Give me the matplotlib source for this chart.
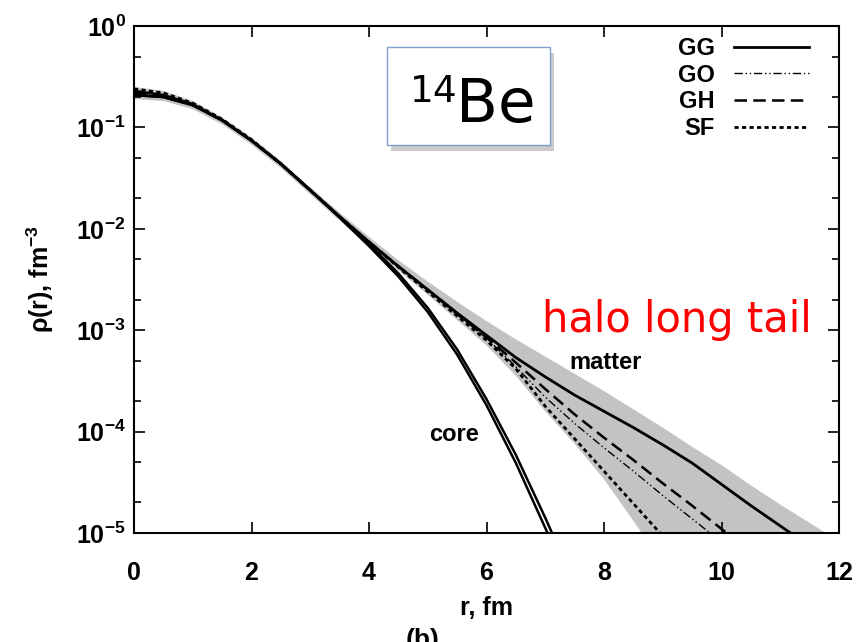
import numpy as np
import matplotlib
matplotlib.use("Agg")
import matplotlib.pyplot as plt
from matplotlib.patches import Rectangle
from matplotlib.ticker import FuncFormatter, LogLocator, NullFormatter
import matplotlib.patheffects as pe

# ---------------- data (log10 of density, fm^-3) ----------------

r = [0, 0.5, 1, 1.5, 2, 2.5, 3, 3.5, 4, 4.5, 5, 5.5, 6, 6.5,
     7, 7.5, 8, 8.5, 9, 9.5, 10, 10.5, 11, 11.5, 12]

# matter densities for the four models
gg_matter = [-0.68, -0.70, -0.78, -0.93, -1.13, -1.36, -1.62, -1.88, -2.13, -2.37, -2.60, -2.83, -3.05, -3.27,
             -3.46, -3.64, -3.80, -3.96, -4.13, -4.31, -4.52, -4.73, -4.93, -5.13, -5.35]
go_matter = [-0.64, -0.68, -0.77, -0.93, -1.13, -1.36, -1.62, -1.88, -2.13, -2.37, -2.60, -2.84, -3.08, -3.36,
             -3.66, -3.92, -4.16, -4.39, -4.63, -4.86, -5.09, -5.35, -5.6, -5.85, -6.1]
gh_matter = [-0.66, -0.69, -0.78, -0.93, -1.13, -1.36, -1.62, -1.88, -2.13, -2.37, -2.60, -2.84, -3.07, -3.32,
             -3.58, -3.83, -4.06, -4.28, -4.51, -4.73, -4.96, -5.18, -5.4, -5.6, -5.8]
sf_matter = [-0.62, -0.66, -0.76, -0.92, -1.12, -1.36, -1.62, -1.88, -2.13, -2.38, -2.62, -2.86, -3.10, -3.38,
             -3.75, -4.07, -4.39, -4.71, -5.03, -5.35, -5.7, -6.0, -6.3, -6.6, -6.9]

# core densities (two nearly identical groups)
core_a = [-0.68, -0.70, -0.78, -0.93, -1.13, -1.36, -1.62, -1.89, -2.17, -2.47, -2.82, -3.24, -3.74, -4.31,
          -4.95, -5.6, -6.3, -7.0, -7.7, -8.4, -9.1, -9.8, -10.5, -11.2, -11.9]
core_b = [-0.64, -0.68, -0.77, -0.93, -1.13, -1.36, -1.62, -1.88, -2.15, -2.44, -2.78, -3.19, -3.68, -4.23,
          -4.85, -5.5, -6.2, -6.9, -7.6, -8.3, -9.0, -9.7, -10.4, -11.1, -11.8]

# uncertainty band of the matter density
band_low = [-0.72, -0.74, -0.82, -0.97, -1.17, -1.40, -1.66, -1.92, -2.17, -2.41, -2.65, -2.90, -3.15, -3.45,
            -3.80, -4.12, -4.47, -4.88, -5.3, -5.7, -6.1, -6.5, -6.9, -7.3, -7.7]
band_high = [-0.60, -0.64, -0.74, -0.90, -1.10, -1.33, -1.59, -1.84, -2.08, -2.31, -2.52, -2.72, -2.91, -3.09,
             -3.26, -3.43, -3.60, -3.78, -3.96, -4.15, -4.33, -4.53, -4.72, -4.90, -5.08]

model_names = ["GG", "GO", "GH", "SF"]
x_ticks = [0, 2, 4, 6, 8, 10, 12]

# ---------------- style ----------------

plt.rcParams['font.family'] = ['Liberation Sans', 'DejaVu Sans']
plt.rcParams['font.weight'] = 'bold'
plt.rcParams['mathtext.fontset'] = 'custom'
plt.rcParams['mathtext.rm'] = 'Liberation Sans:bold'
plt.rcParams['mathtext.bf'] = 'Liberation Sans:bold'
plt.rcParams['mathtext.it'] = 'Liberation Sans:bold'

W, H = 865, 642
fig = plt.figure(figsize=(W / 100, H / 100), dpi=100)
ax = fig.add_axes([134 / W, 1 - 533 / H, (839 - 134) / W, (533 - 26) / H])

rr = np.array(r)
ax.fill_between(rr, 10 ** np.array(band_low), 10 ** np.array(band_high),
                color='#c3c3c3', lw=0, zorder=1)

# core lines
for core in [core_a, core_b]:
    ax.plot(rr, 10 ** np.array(core), color='black', lw=1.8, zorder=3)

styles = {
    "GG": dict(ls='-', lw=2.0),
    "GO": dict(ls=(0, (6, 2, 1, 2, 1, 2)), lw=1.0),
    "GH": dict(ls=(0, (5, 2.5)), lw=1.8),
    "SF": dict(ls=(0, (1.5, 1.2)), lw=2.0),
}
series = {"GG": gg_matter, "GO": go_matter, "GH": gh_matter, "SF": sf_matter}

handles = []
for name in model_names:
    h, = ax.plot(rr, 10 ** np.array(series[name]), color='black', zorder=4,
                 label=name, **styles[name])
    handles.append(h)

ax.set_yscale('log')
ax.set_xlim(0, 12)
ax.set_ylim(1e-5, 1)
ax.set_xticks(x_ticks)
ax.set_xticklabels([str(t) for t in x_ticks], fontsize=18, fontweight='bold')
ax.yaxis.set_major_locator(LogLocator(base=10, numticks=10))
ax.yaxis.set_minor_locator(LogLocator(base=10, subs=(2, 5), numticks=10))
ax.yaxis.set_minor_formatter(NullFormatter())
ax.yaxis.set_major_formatter(FuncFormatter(
    lambda v, p: r'$\mathbf{10^{%d}}$' % int(round(np.log10(v)))))
ax.tick_params(axis='y', labelsize=18)

ax.tick_params(which='both', direction='in', top=True, right=True, width=1.2)
ax.tick_params(which='major', length=8)
ax.tick_params(which='minor', length=5)
ax.tick_params(axis='x', pad=20)
ax.tick_params(axis='y', pad=6)
for s in ax.spines.values():
    s.set_linewidth(1.5)

ax.set_xlabel('r, fm', fontsize=18, fontweight='bold', labelpad=8)
ax.set_ylabel(r'ρ(r), fm$^{\mathbf{-3}}$', fontsize=18, fontweight='bold', labelpad=14)

leg = ax.legend(handles=handles, labels=model_names, loc='upper right',
                bbox_to_anchor=(0.958, 0.978), markerfirst=False, frameon=False,
                handlelength=3.2, fontsize=17, labelspacing=0.15,
                borderaxespad=0, borderpad=0, handletextpad=0.8)

# annotations
ax.text(8.03, 10 ** -3.32, 'matter', ha='center', va='center', fontsize=17, fontweight='bold')
ax.text(5.45, 10 ** -4.03, 'core', ha='center', va='center', fontsize=17, fontweight='bold')
ax.text(9.24, 10 ** -3.02, 'halo long tail', ha='center', va='baseline', color='red',
        fontsize=30, fontweight='normal', family='DejaVu Sans')

# 14Be box
box = Rectangle((387 / W, 1 - 145 / H), 163 / W, 98 / H, transform=fig.transFigure,
                facecolor='white', edgecolor='#7f9fcf', lw=1.0, zorder=5,
                path_effects=[pe.SimplePatchShadow(offset=(3, -4), shadow_rgbFace='#999999', alpha=0.5),
                              pe.Normal()])
fig.patches.append(box)
fig.text(410 / W, 1 - 102 / H, '14', fontsize=27, fontweight='normal', family='DejaVu Sans',
         va='baseline', ha='left', zorder=6)
fig.text(456 / W, 1 - 122 / H, 'Be', fontsize=44, fontweight='normal', family='DejaVu Sans',
         va='baseline', ha='left', zorder=6)

# panel tag, cut off at the bottom edge as in the source figure
fig.text(423 / W, 1 - 628 / H, '(b)', ha='center', va='top', fontsize=19, fontweight='bold')

fig.savefig('out.png', dpi=100)
